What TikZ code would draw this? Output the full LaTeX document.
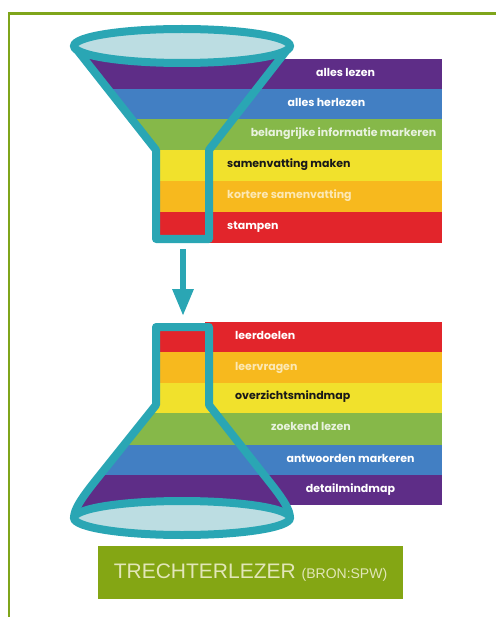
\documentclass[tikz,border=0pt]{standalone}
\usepackage{fontspec}
\newfontfamily\barfont{Poppins}
\newfontfamily\capfont{Liberation Sans}
\usetikzlibrary{arrows.meta}
\definecolor{fgreen}{HTML}{7FA51B}
\definecolor{capgreen}{HTML}{84A614}
\definecolor{captext}{HTML}{E2E6B8}
\definecolor{teal1}{HTML}{2AA6B4}
\definecolor{lblue}{HTML}{BCDDE2}
\definecolor{cpurple}{HTML}{5E2D87}
\definecolor{cblue}{HTML}{427FC3}
\definecolor{cgreen}{HTML}{86B849}
\definecolor{cyellow}{HTML}{F1E12C}
\definecolor{corange}{HTML}{F7B91E}
\definecolor{cred}{HTML}{E2252B}
\definecolor{palegreen}{HTML}{E8F2DE}
\definecolor{paleorange}{HTML}{FCE8B4}
\begin{document}
\begin{tikzpicture}[x=1pt,y=-1pt,
  lbl/.style={font=\barfont\bfseries\fontsize{11}{12}\selectfont, text=white, inner sep=0pt, text height=1.4ex, text depth=0.35ex},
  outline/.style={draw=teal1, line width=8pt, line join=round},
  rim/.style={draw=teal1, fill=lblue, line width=8pt}]
\useasboundingbox (0,0) rectangle (496,617);
% frame
\draw[fgreen, line width=2.8pt] (496,13.5) -- (9,13.5) -- (9,617);

% ===== top funnel =====
% bars
\fill[cpurple] (205,59) rectangle (442,89);
\fill[cblue]   (205,89) rectangle (442,119);
\fill[cgreen]  (205,119) rectangle (442,150);
\fill[cyellow] (205,150) rectangle (442,181);
\fill[corange] (205,181) rectangle (442,212);
\fill[cred]    (205,212) rectangle (442,243);
% cone interior
\begin{scope}
\clip (74,46) -- (156,150) -- (156,239) -- (209,239) -- (209,150) -- (290,46) -- cycle;
\fill[cpurple] (60,20) rectangle (300,89);
\fill[cblue]   (60,89) rectangle (300,119);
\fill[cgreen]  (60,119) rectangle (300,150);
\fill[cyellow] (60,150) rectangle (300,181);
\fill[corange] (60,181) rectangle (300,212);
\fill[cred]    (60,212) rectangle (300,243);
\end{scope}
\draw[outline] (74,46) -- (156,150) -- (156,239) -- (209,239) -- (209,150) -- (290,46);
\draw[rim] (182,46) ellipse [x radius=108, y radius=17];

% ===== bottom flask =====
\fill[cred]    (205,322) rectangle (442,352);
\fill[corange] (205,352) rectangle (442,383);
\fill[cyellow] (205,383) rectangle (442,413);
\fill[cgreen]  (205,413) rectangle (442,445);
\fill[cblue]   (205,445) rectangle (442,475);
\fill[cpurple] (205,475) rectangle (442,505);
\begin{scope}
\clip (156,327) -- (156,405) -- (96,480) .. controls (80,500) and (74,510) .. (74,518)
  -- (290,518) .. controls (290,510) and (284,500) .. (268,480) -- (209,405) -- (209,327) -- cycle;
\fill[cred]    (60,320) rectangle (300,352);
\fill[corange] (60,352) rectangle (300,383);
\fill[cyellow] (60,383) rectangle (300,413);
\fill[cgreen]  (60,413) rectangle (300,445);
\fill[cblue]   (60,445) rectangle (300,475);
\fill[cpurple] (60,475) rectangle (300,530);
\end{scope}
\draw[outline] (74,518) .. controls (74,510) and (80,500) .. (96,480) -- (156,405) -- (156,327)
  -- (209,327) -- (209,405) -- (268,480) .. controls (284,500) and (290,510) .. (290,518);
\draw[rim] (182,518) ellipse [x radius=108, y radius=17];

% arrow
\coordinate (arrS) at (183,249);
\coordinate (arrE) at (183,316);
\draw[teal1, line width=6pt, -{Triangle[width=20pt,length=27pt]}] (arrS) -- (arrE);

% labels top
\node[lbl] (t1) at (345.5,74) {alles lezen};
\node[lbl] (t2) at (326.5,104) {alles herlezen};
\node[lbl, text=palegreen] (t3) at (343.5,134) {belangrijke informatie markeren};
\node[lbl, anchor=west, text=black!90] (t4) at (227,165) {samenvatting maken};
\node[lbl, anchor=west, text=paleorange] (t5) at (227,196) {kortere samenvatting};
\node[lbl, anchor=west] (t6) at (227,227) {stampen};
% labels bottom
\node[lbl, anchor=west] (b1) at (235,337) {leerdoelen};
\node[lbl, anchor=west, text=paleorange] (b2) at (235,368) {leervragen};
\node[lbl, anchor=west, text=black!90] (b3) at (235,397) {overzichtsmindmap};
\node[lbl, text=palegreen] (b4) at (311,428) {zoekend lezen};
\node[lbl] (b5) at (350.5,460) {antwoorden markeren};
\node[lbl] (b6) at (350.5,490) {detailmindmap};

% caption
\node[fill=capgreen, minimum width=305pt, minimum height=53pt, inner sep=0pt, text=captext]
  (cap) at (250.5,572.5) {\capfont\fontsize{21}{21}\selectfont TRECHTERLEZER \fontsize{14}{14}\selectfont(BRON:SPW)};
\end{tikzpicture}
\end{document}
